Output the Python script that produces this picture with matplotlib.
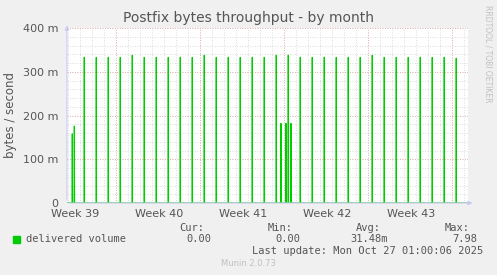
import numpy as np
import matplotlib.pyplot as plt

# Datos (dias desde el borde izquierdo del grafico, valores en milli-bytes/s)
spike_days = [0.44, 0.61,
              1.44, 2.44, 3.44, 4.44, 5.44, 6.44, 7.44, 8.44, 9.44, 10.44,
              11.44, 12.44, 13.44, 14.44, 15.44, 16.44, 17.44, 17.83, 18.25,
              18.44, 18.67, 19.44, 20.44, 21.44, 22.44, 23.44, 24.44,
              25.44, 26.44, 27.44, 28.44, 29.44, 30.44, 31.44, 32.44]
spike_vals = [158, 176,
              333, 333, 333, 333, 338, 333, 333, 333, 333, 333,
              338, 333, 333, 333, 333, 333, 338, 182, 182,
              338, 182, 333, 333, 333, 333, 333, 333,
              338, 333, 333, 333, 333, 333, 333, 331]

week_labels = ['Week 39', 'Week 40', 'Week 41', 'Week 42', 'Week 43']
week_label_pos = [0.67, 7.67, 14.67, 21.67, 28.67]
week_starts = [4.1, 11.1, 18.1, 25.1, 32.1]
y_ticks = [0, 100, 200, 300, 400]
y_tick_labels = ['0', '100 m', '200 m', '300 m', '400 m']

x_end = 33.42

# Serie de linea construida a partir de los picos
w = 0.02
xs = [0.0]
ys = [0.0]
for d, v in zip(spike_days, spike_vals):
    xs += [d - w, d, d + w]
    ys += [0, v, 0]
xs.append(x_end)
ys.append(0)

fig = plt.figure(figsize=(4.97, 2.75), dpi=100)
fig.patch.set_facecolor('#f0f0f0')
ax = fig.add_axes([67/497, 1-203/275, 401/497, 175/275])
ax.set_facecolor('white')
ax.set_xlim(0, x_end)
ax.set_ylim(0, 400)

# Rejilla menor y mayor
for d in np.arange(0.1, x_end, 1.0):
    ax.axvline(d, color='#d0d0d0', lw=0.6, ls=(0, (1, 2)), zorder=1)
for yv in np.arange(0, 401, 20):
    ax.axhline(yv, color='#d0d0d0', lw=0.6, ls=(0, (1, 2)), zorder=1)
for d in week_starts:
    ax.axvline(d, color='#e8a0a0', lw=0.6, ls=(0, (1, 2)), zorder=2)
for yv in y_ticks:
    ax.axhline(yv, color='#e8a0a0', lw=0.6, ls=(0, (1, 2)), zorder=2)

ax.plot(xs, ys, color='#00cc00', lw=0.8, zorder=3)

for s in ax.spines.values():
    s.set_visible(False)
ax.tick_params(length=0, labelsize=8, colors='#555555')
ax.set_yticks(y_ticks)
ax.set_yticklabels(y_tick_labels)
ax.set_xticks(week_label_pos)
ax.set_xticklabels(week_labels)
ax.tick_params(axis='y', pad=6)
ax.tick_params(axis='x', pad=4)

# Ejes con flechas
ax.annotate('', xy=(x_end + 0.6, 0), xytext=(0, 0), annotation_clip=False,
            arrowprops=dict(arrowstyle='-|>', color='#c8c8f0', lw=0.8, mutation_scale=6))
ax.annotate('', xy=(0, 412), xytext=(0, 0), annotation_clip=False,
            arrowprops=dict(arrowstyle='-|>', color='#c8c8f0', lw=0.8, mutation_scale=6))

fig.text(0.5, 1-18/275, 'Postfix bytes throughput - by month', ha='center', va='center',
         fontsize=10, color='#555555')
fig.text(11/497, 1-115/275, 'bytes / second', rotation=90, ha='center', va='center',
         fontsize=8.5, color='#555555')
fig.text(488/497, 1-5/275, 'RRDTOOL / TOBI OETIKER', rotation=270, ha='center', va='top',
         fontsize=5.5, color='#c0c0c0')

# Leyenda
mono = 'DejaVu Sans Mono'
fig.patches.append(plt.Rectangle((13/497, 1-243/275), 7/497, 7/275, transform=fig.transFigure,
                                 color='#00cc00'))
fig.text(26/497, 1-239/275, 'delivered volume', family=mono, fontsize=7.5, color='#555555', va='center')
for xp, h, v in [(204, 'Cur:', '0.00'), (293, 'Min:', '0.00'), (381, 'Avg:', '31.48m'), (470, 'Max:', '7.98')]:
    fig.text(xp/497, 1-228/275, h, family=mono, fontsize=7.5, color='#555555', va='center', ha='right')
    fig.text((xp + 7)/497, 1-239/275, v, family=mono, fontsize=7.5, color='#555555', va='center', ha='right')
fig.text(483/497, 1-251/275, 'Last update: Mon Oct 27 01:00:06 2025', family=mono, fontsize=7.5,
         color='#555555', va='center', ha='right')
fig.text(248/497, 1-264/275, 'Munin 2.0.73', fontsize=6, color='#c0c0c0', va='center', ha='center')

fig.savefig('out.png', dpi=100, facecolor=fig.get_facecolor())
